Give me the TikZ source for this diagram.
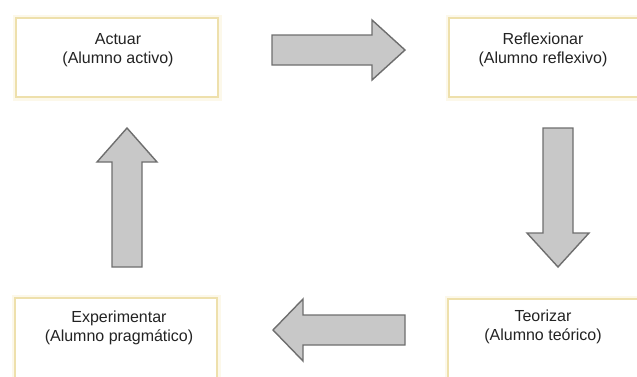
\documentclass[tikz,border=0pt]{standalone}
\usepackage{fontspec}
\setmainfont{Liberation Sans}
\definecolor{boxline}{RGB}{238,224,172}
\definecolor{boxhalo}{RGB}{252,248,234}
\definecolor{arrfill}{RGB}{200,200,200}
\definecolor{arrline}{RGB}{110,110,110}
\definecolor{txt}{RGB}{35,35,35}
\begin{document}
\begin{tikzpicture}[x=1pt,y=-1pt,
  boxframe/.style={draw=boxline, line width=2pt, fill=white, rectangle, inner sep=0pt,
    preaction={draw=boxhalo, line width=7pt}},
  boxtext/.style={text=txt, align=center, font=\fontsize{16}{19}\selectfont, inner sep=0pt},
  blockarrow/.style={fill=arrfill, draw=arrline, line width=1.4pt, line join=miter}]
\useasboundingbox (0,0) rectangle (637,376);
\clip (0,0) rectangle (637,376);
% boxes
\node[boxframe, minimum width=202pt, minimum height=79pt] (actuar) at (117,57.5) {};
\node[boxframe, minimum width=200pt, minimum height=79pt] (reflex) at (549,57.5) {};
\node[boxframe, minimum width=202pt, minimum height=84pt] (exper) at (116,340) {};
\node[boxframe, minimum width=200pt, minimum height=84pt] (teor) at (548,341) {};
% texts
\node[boxtext] (actuar-t) at (118,50) {Actuar\\(Alumno activo)};
\node[boxtext] (reflex-t) at (543,50) {Reflexionar\\(Alumno reflexivo)};
\node[boxtext] (exper-t) at (119,328) {Experimentar\\(Alumno pragmático)};
\node[boxtext] (teor-t) at (543,327) {Teorizar\\(Alumno teórico)};
% block arrows
\draw[blockarrow] (272,35) -- (372,35) -- (372,20) -- (405,50) -- (372,80) -- (372,65) -- (272,65) -- cycle;
\draw[blockarrow] (543,128) -- (573,128) -- (573,233) -- (589,233) -- (558,267) -- (527,233) -- (543,233) -- cycle;
\draw[blockarrow] (112,267) -- (142,267) -- (142,162) -- (157,162) -- (127,128) -- (97,162) -- (112,162) -- cycle;
\draw[blockarrow] (405,315) -- (405,345) -- (303,345) -- (303,361) -- (273,330) -- (303,299) -- (303,315) -- cycle;
\end{tikzpicture}
\end{document}
